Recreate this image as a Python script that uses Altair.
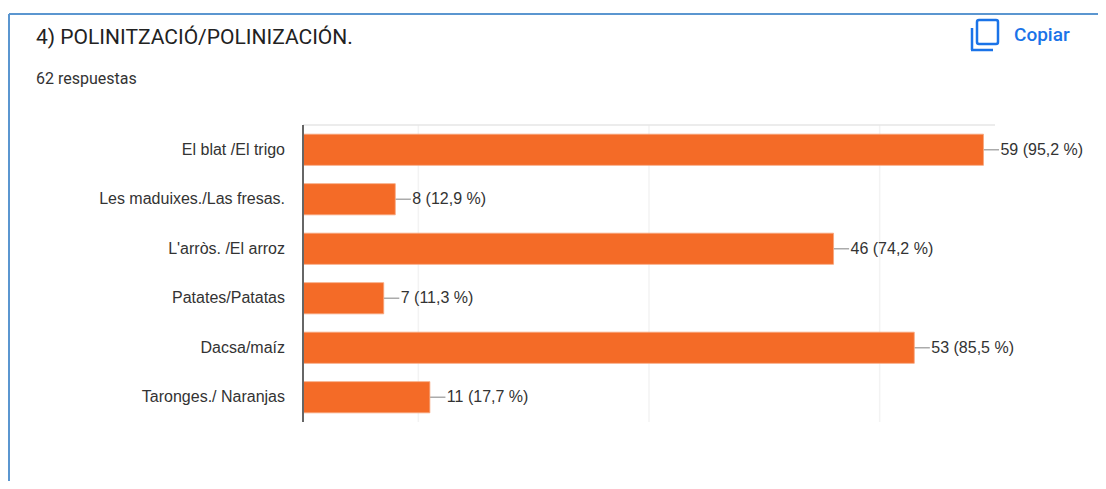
import altair as alt
import pandas as pd

categories = ["El blat /El trigo", "Les maduixes./Las fresas.", "L'arròs. /El arroz",
              "Patates/Patatas", "Dacsa/maíz", "Taronges./ Naranjas"]
counts = [59, 8, 46, 7, 53, 11]
labels = ["59 (95,2 %)", "8 (12,9 %)", "46 (74,2 %)", "7 (11,3 %)", "53 (85,5 %)", "11 (17,7 %)"]
major_ticks = [0, 20, 40, 60]
minor_grid = [10, 30, 50]

df = pd.DataFrame({"cat": categories, "n": counts, "label": labels})
df["lead"] = df["n"] + 1.35

ORANGE = "#F46B27"
TXT = "#333333"
BLUE = "#1A73E8"
FRAME = "#5B96D0"

xs = alt.Scale(domain=[0, 60], nice=False)
x = alt.X("n:Q", scale=xs, axis=None)
y = alt.Y("cat:N", sort=categories, axis=None,
          scale=alt.Scale(paddingInner=0.37, paddingOuter=0.185))

base = alt.Chart(df)

minor = alt.Chart(pd.DataFrame({"v": minor_grid})).mark_rule(color="#F3F3F3", strokeWidth=1.5).encode(
    x=alt.X("v:Q", scale=xs, axis=None))

main_axis = alt.Chart(df).mark_bar(opacity=0).encode(
    x=alt.X("n:Q", scale=xs, axis=alt.Axis(
        values=major_ticks, title=None, grid=True, gridColor="#E6E6E6", gridWidth=1.5,
        domain=True, domainColor="#E6E6E6", domainWidth=1.5, ticks=False, labelPadding=12,
        labelFont="Liberation Sans", labelFontSize=16, labelColor=TXT, format="d")),
    y=alt.Y("cat:N", sort=categories, scale=alt.Scale(paddingInner=0.37, paddingOuter=0.185), axis=None))

top_edge = alt.Chart(pd.DataFrame({"a": [0]})).mark_rule(color="#E6E6E6", strokeWidth=1.5).encode(
    y=alt.value(0), x=alt.value(0), x2=alt.value(692))

bars = base.mark_bar(color=ORANGE, stroke="#F8A67C", strokeWidth=0.8).encode(x=x, y=y)
leaders = base.mark_rule(color="#ABABAB", strokeWidth=1.5).encode(
    x=x, x2="lead:Q", y=alt.Y("cat:N", sort=categories, axis=None, scale=alt.Scale(paddingInner=0.37, paddingOuter=0.185), bandPosition=0.5))
vals = base.mark_text(align="left", baseline="middle", dx=17, font="Liberation Sans", fontSize=16, color=TXT).encode(
    x=x, y=y, text="label:N")
cats = base.mark_text(align="right", baseline="middle", font="Liberation Sans", fontSize=16, color=TXT).encode(
    x=alt.value(-18), y=y, text="cat:N")
zero = alt.Chart(pd.DataFrame({"a": [0]})).mark_rule(color="#666666", strokeWidth=2).encode(
    x=alt.value(0), y=alt.value(0), y2=alt.value(297))


def label(txt, px, py, size, color, font="Roboto", weight=400):
    return alt.Chart(pd.DataFrame({"t": [txt]})).mark_text(
        align="left", baseline="alphabetic", font=font, fontSize=size, color=color, fontWeight=weight
    ).encode(x=alt.value(px), y=alt.value(py), text="t:N")


def seg(x1, y1, x2, y2, color, w):
    return alt.Chart(pd.DataFrame({"a": [0]})).mark_rule(color=color, strokeWidth=w).encode(
        x=alt.value(x1), x2=alt.value(x2), y=alt.value(y1), y2=alt.value(y2))


OX, OY = 303, 125
deco = [
    seg(9 - OX, 14 - OY, 1106 - OX, 14 - OY, FRAME, 2),
    seg(9 - OX, 14 - OY, 9 - OX, 481 - OY, FRAME, 2),
    label("4)  POLINITZACIÓ/POLINIZACIÓN.", 36 - OX, 44 - OY, 21, "#222222"),
    label("62 respuestas", 36 - OX, 84 - OY, 16, TXT),
    label("Copiar", 1014 - OX, 41 - OY, 19, BLUE, weight=500),
    alt.Chart(pd.DataFrame({"a": [0]})).mark_rect(
        fill="transparent", stroke=BLUE, strokeWidth=2.5, cornerRadius=2).encode(
        x=alt.value(977 - OX), x2=alt.value(998 - OX), y=alt.value(20 - OY), y2=alt.value(44 - OY)),
    seg(972 - OX, 28 - OY, 972 - OX, 50 - OY, BLUE, 2.5),
    seg(971 - OX, 50 - OY, 993 - OX, 50 - OY, BLUE, 2.5),
]

chart = alt.layer(minor, main_axis, top_edge, leaders, bars, vals, cats, zero, *deco).resolve_scale(
    x="shared", y="shared"
).properties(
    width=692, height=297,
    padding={"left": 295, "top": 117, "right": 103, "bottom": 59},
    autosize=alt.AutoSizeParams(type="none"),
).configure_view(stroke=None)

chart.save("out.html", embed_options={"renderer": "svg", "actions": False})
